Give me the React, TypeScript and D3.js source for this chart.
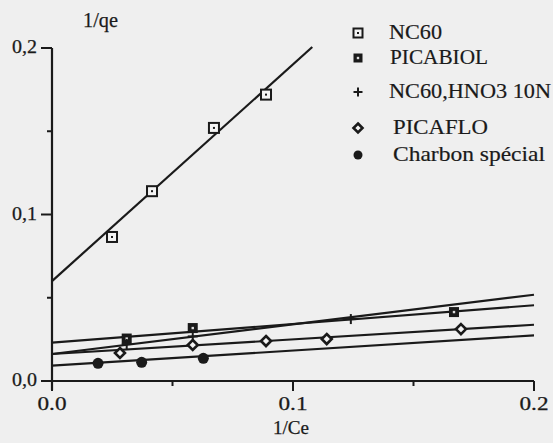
import React from "react";
import * as d3 from "d3";

const W = 553;
const H = 443;

// tick labels
const yTickValues = [0, 0.1, 0.2];
const yTickLabels = ["0,0", "0,1", "0,2"];
const yMinorTicks = [0.05, 0.15];
const xTickValues = [0, 0.1, 0.2];
const xTickLabels = ["0.0", "0.1", "0.2"];
const xMinorTicks = [0.05, 0.15];

// series (1/Ce, 1/qe)
const seriesNames = ["NC60", "PICABIOL", "NC60,HNO3 10N", "PICAFLO", "Charbon spécial"];
const nc60Points: [number, number][] = [
  [0.0249, 0.0865],
  [0.0415, 0.114],
  [0.0672, 0.152],
  [0.0888, 0.172],
];
const picabiolPoints: [number, number][] = [
  [0.031, 0.0255],
  [0.0584, 0.0318],
  [0.1668, 0.0414],
];
const hno3Points: [number, number][] = [
  [0.031, 0.0222],
  [0.0584, 0.0268],
  [0.124, 0.0372],
];
const picafloPoints: [number, number][] = [
  [0.0282, 0.0168],
  [0.0584, 0.0216],
  [0.0888, 0.024],
  [0.114, 0.0252],
  [0.1697, 0.0312],
];
const charbonPoints: [number, number][] = [
  [0.0191, 0.0106],
  [0.0372, 0.0112],
  [0.0628, 0.0136],
];

// fitted lines (end points)
const nc60Fit: [number, number][] = [[0, 0.06], [0.108, 0.2006]];
const picabiolFit: [number, number][] = [[0, 0.023], [0.2, 0.0455]];
const hno3Fit: [number, number][] = [[0, 0.0162], [0.2, 0.0518]];
const picafloFit: [number, number][] = [[0, 0.0162], [0.2, 0.0338]];
const charbonFit: [number, number][] = [[0, 0.0092], [0.2, 0.0274]];

const INK = "#1a1a1a";
const FONT = "'Liberation Serif', 'Times New Roman', serif";

type MarkerKind = "openSquare" | "filledSquare" | "plus" | "diamond" | "circle";

function Marker({ kind, x, y, s = 10 }: { kind: MarkerKind; x: number; y: number; s?: number }) {
  const h = s / 2;
  switch (kind) {
    case "openSquare":
      return (
        <g>
          <rect x={x - h} y={y - h} width={s} height={s} fill="#f4f4f4" stroke={INK} strokeWidth={2} />
          <rect x={x - 1} y={y - 1} width={2} height={2} fill={INK} />
        </g>
      );
    case "filledSquare":
      return (
        <g>
          <rect x={x - h} y={y - h} width={s} height={s} fill={INK} />
          <rect x={x - 1.2} y={y - 1.2} width={2.4} height={2.4} fill="#ddd" />
        </g>
      );
    case "plus":
      return (
        <g stroke={INK} strokeWidth={2}>
          <line x1={x - h} x2={x + h} y1={y} y2={y} />
          <line x1={x} x2={x} y1={y - h} y2={y + h} />
        </g>
      );
    case "diamond":
      return (
        <path
          d={`M${x},${y - h}L${x + h},${y}L${x},${y + h}L${x - h},${y}Z`}
          fill="#f4f4f4"
          stroke={INK}
          strokeWidth={2.6}
        />
      );
    case "circle":
      return <circle cx={x} cy={y} r={h} fill={INK} />;
  }
}

export default function App() {
  const x = d3.scaleLinear().domain([0, 0.2]).range([52, 534]);
  const y = d3.scaleLinear().domain([0, 0.2]).range([381, 48]);
  const line = d3
    .line<[number, number]>()
    .x((d) => x(d[0]))
    .y((d) => y(d[1]));

  const series: { pts: [number, number][]; fit: [number, number][]; kind: MarkerKind }[] = [
    { pts: nc60Points, fit: nc60Fit, kind: "openSquare" },
    { pts: picabiolPoints, fit: picabiolFit, kind: "filledSquare" },
    { pts: hno3Points, fit: hno3Fit, kind: "plus" },
    { pts: picafloPoints, fit: picafloFit, kind: "diamond" },
    { pts: charbonPoints, fit: charbonFit, kind: "circle" },
  ];

  const legendY = [33, 58, 92, 128, 155];
  const legendWidths = [53, 98, 162, 95, 152];
  const legendX = [389, 390, 389, 393, 393];

  const x0 = x(0);
  const y0 = y(0);

  return (
    <svg
      width={W}
      height={H}
      style={{ position: "absolute", left: 0, top: 0, background: "#efefef" }}
      fontFamily={FONT}
    >
      <rect width={W} height={H} fill="#efefef" />
      {/* axes */}
      <line x1={x0} x2={x0} y1={y(0.2)} y2={y0 + 9} stroke={INK} strokeWidth={2.2} />
      <line x1={x0} x2={x(0.2)} y1={y0} y2={y0} stroke={INK} strokeWidth={2.2} />
      {yTickValues.map((v, i) => (
        <g key={"yt" + i}>
          <line x1={x0 - 11} x2={x0} y1={y(v)} y2={y(v)} stroke={INK} strokeWidth={2} />
          <text
            x={12}
            y={y(v) + 1}
            fontSize={19}
            fill={INK}
            stroke={INK}
            strokeWidth={0.25}
            dominantBaseline="middle"
            textLength={25}
            lengthAdjust="spacingAndGlyphs"
          >
            {yTickLabels[i]}
          </text>
        </g>
      ))}
      {yMinorTicks.map((v, i) => (
        <line key={"ym" + i} x1={x0 - 5} x2={x0} y1={y(v)} y2={y(v)} stroke={INK} strokeWidth={2} />
      ))}
      {xTickValues.map((v, i) => (
        <g key={"xt" + i}>
          <line x1={x(v)} x2={x(v)} y1={y0} y2={y0 + 10} stroke={INK} strokeWidth={2} />
          <text
            x={x(v)}
            y={y0 + 25}
            fontSize={18}
            fill={INK}
            stroke={INK}
            strokeWidth={0.25}
            textAnchor="middle"
            dominantBaseline="middle"
            textLength={29}
            lengthAdjust="spacingAndGlyphs"
          >
            {xTickLabels[i]}
          </text>
        </g>
      ))}
      {xMinorTicks.map((v, i) => (
        <line key={"xm" + i} x1={x(v)} x2={x(v)} y1={y0} y2={y0 + 5} stroke={INK} strokeWidth={2} />
      ))}
      <text x={83} y={22} fontSize={21} fill={INK} stroke={INK} strokeWidth={0.25} dominantBaseline="middle" textLength={35} lengthAdjust="spacingAndGlyphs">
        1/qe
      </text>
      <text x={273} y={430} fontSize={19} fill={INK} stroke={INK} strokeWidth={0.25} dominantBaseline="middle" textLength={36} lengthAdjust="spacingAndGlyphs">
        1/Ce
      </text>

      {/* fitted lines */}
      {series.map((s, i) => (
        <path key={"l" + i} d={line(s.fit) || ""} fill="none" stroke={INK} strokeWidth={2.2} />
      ))}
      {/* points */}
      {series.map((s, i) =>
        s.pts.map((p, j) => <Marker key={`m${i}-${j}`} kind={s.kind} x={x(p[0])} y={y(p[1])} s={s.kind === "circle" ? 11 : 10} />)
      )}

      {/* legend */}
      {seriesNames.map((name, i) => (
        <g key={"lg" + i}>
          <Marker kind={series[i].kind} x={358} y={legendY[i]} s={9} />
          <text
            x={legendX[i]}
            y={legendY[i] + 1}
            fontSize={21}
            fill={INK}
            stroke={INK}
            strokeWidth={0.2}
            dominantBaseline="middle"
            textLength={legendWidths[i]}
            lengthAdjust="spacingAndGlyphs"
          >
            {name}
          </text>
        </g>
      ))}
    </svg>
  );
}
